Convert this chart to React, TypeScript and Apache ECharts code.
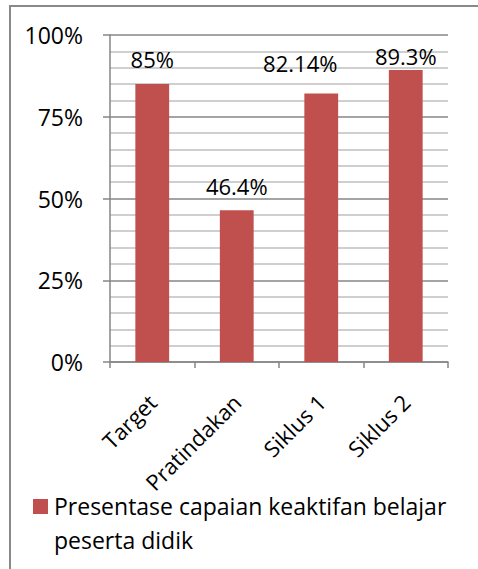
import React, { useEffect, useRef } from "react";
import * as echarts from "echarts";

const categories = ["Target", "Pratindakan", "Siklus 1", "Siklus 2"];
const values = [85, 46.4, 82.14, 89.3];
const seriesName = "Presentase capaian keaktifan belajar peserta didik";
const legendLines = ["Presentase capaian keaktifan belajar", "peserta didik"];
const yTicks = [0, 25, 50, 75, 100];

const FONT = "'Open Sans', sans-serif";
const BAR = "#C0504D";
const AXIS = "#868686";
const MINOR = "#BFBFBF";

// per-label nudges (style only)
const labelDistance = [14, 13, 19, 3];
const labelShiftX = [0, 0, -21, 0];

export default function App() {
  const ref = useRef<HTMLDivElement>(null);
  useEffect(() => {
    document.body.style.margin = "0";
    const chart = echarts.init(ref.current!, null, { renderer: "svg" });
    chart.setOption({
      animation: false,
      backgroundColor: "#ffffff",
      textStyle: { fontFamily: FONT },
      grid: { left: 110, right: 30, top: 35, bottom: 207, containLabel: false },
      xAxis: {
        type: "category",
        data: categories,
        axisLine: { lineStyle: { color: AXIS, width: 1.5 } },
        axisTick: { show: true, length: 6, lineStyle: { color: AXIS, width: 1.5 } },
        axisLabel: {
          rotate: 45,
          margin: 36,
          fontSize: 22,
          color: "#000",
          fontFamily: FONT,
        },
      },
      yAxis: {
        type: "value",
        min: 0,
        max: 100,
        interval: 25,
        axisLine: { show: true, lineStyle: { color: AXIS, width: 1.5 } },
        axisTick: { show: true, length: 7, lineStyle: { color: AXIS, width: 1.5 } },
        axisLabel: {
          formatter: (v: number) => (yTicks.includes(v) ? v + "%" : ""),
          fontSize: 23,
          margin: 27,
          color: "#000",
          fontFamily: FONT,
        },
        splitLine: { show: true, lineStyle: { color: AXIS, width: 1.5 } },
        minorTick: { show: false, splitNumber: 5 },
        minorSplitLine: { show: true, lineStyle: { color: MINOR, width: 1.5 } },
      },
      series: [
        {
          name: seriesName,
          type: "bar",
          barCategoryGap: "60%",
          itemStyle: { color: BAR },
          data: values.map((v, i) => ({
            value: v,
            label: {
              show: true,
              position: "top",
              distance: labelDistance[i],
              offset: [labelShiftX[i], 0],
              formatter: (p: any) => p.value + "%",
              fontSize: 22,
              color: "#000",
              fontFamily: FONT,
            },
          })),
        },
      ],
      graphic: [
        {
          type: "rect",
          shape: { x: 10, y: 6, width: 480, height: 580 },
          style: { fill: "none", stroke: "#898989", lineWidth: 2 },
          silent: true,
          z: 100,
        },
        {
          type: "rect",
          shape: { x: 33, y: 499, width: 15, height: 15 },
          style: { fill: BAR },
        },
        {
          type: "text",
          x: 54,
          y: 489,
          style: {
            text: legendLines.join("\n"),
            font: `23px ${FONT}`,
            fill: "#000",
            lineHeight: 34,
          },
        },
      ],
    });
    return () => chart.dispose();
  }, []);
  return <div ref={ref} style={{ width: 478, height: 569 }} />;
}
